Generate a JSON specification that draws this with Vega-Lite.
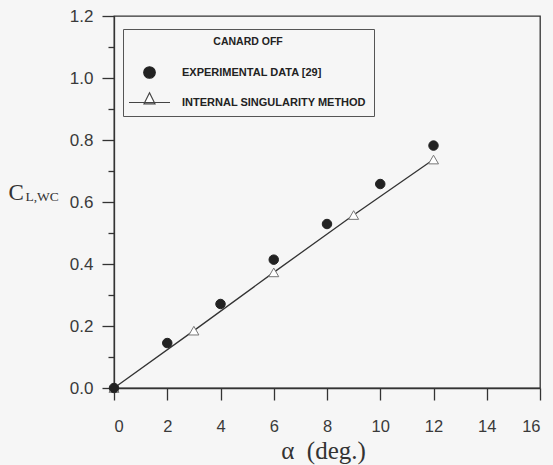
{
  "$schema": "https://vega.github.io/schema/vega-lite/v6.json",
  "autosize": {"type": "none"},
  "width": 426,
  "height": 372,
  "padding": {"left": 114, "top": 16, "right": 13, "bottom": 77},
  "background": "#f6f6f6",
  "config": {
    "view": {"stroke": "#333", "strokeWidth": 1.3},
    "axis": {"domainColor": "#333", "domainWidth": 1.3, "tickColor": "#333", "tickWidth": 1.3, "grid": false, "labelFont": "Liberation Sans", "labelColor": "#3a3a3a"}
  },
  "data": {
    "values": [
      {"series": "INTERNAL SINGULARITY METHOD", "alpha": 0, "cl": 0},
      {"series": "INTERNAL SINGULARITY METHOD", "alpha": 3, "cl": 0.185},
      {"series": "INTERNAL SINGULARITY METHOD", "alpha": 6, "cl": 0.373},
      {"series": "INTERNAL SINGULARITY METHOD", "alpha": 9, "cl": 0.558},
      {"series": "INTERNAL SINGULARITY METHOD", "alpha": 12, "cl": 0.737},
      {"series": "EXPERIMENTAL DATA [29]", "alpha": 0, "cl": 0},
      {"series": "EXPERIMENTAL DATA [29]", "alpha": 2, "cl": 0.145},
      {"series": "EXPERIMENTAL DATA [29]", "alpha": 4, "cl": 0.271},
      {"series": "EXPERIMENTAL DATA [29]", "alpha": 6, "cl": 0.414},
      {"series": "EXPERIMENTAL DATA [29]", "alpha": 8, "cl": 0.529},
      {"series": "EXPERIMENTAL DATA [29]", "alpha": 10, "cl": 0.658},
      {"series": "EXPERIMENTAL DATA [29]", "alpha": 12, "cl": 0.782}
    ]
  },
  "encoding": {
    "y": {
      "field": "cl", "type": "quantitative",
      "scale": {"domain": [0, 1.2], "nice": false, "zero": false},
      "axis": {
        "values": [0, 0.1, 0.2, 0.3, 0.4, 0.5, 0.6, 0.7, 0.8, 0.9, 1.0, 1.1, 1.2],
        "labelExpr": "round(datum.value*10)%2===0 ? format(datum.value, '.1f') : ''",
        "tickSize": {"condition": {"test": "round(datum.value*10)%2===0", "value": 12}, "value": 6},
        "labelFontSize": 17, "labelPadding": 9,
        "title": "C", "titleAngle": 0, "titleAlign": "left", "titleBaseline": "alphabetic",
        "titleX": -106, "titleY": 183, "titleFont": "Liberation Serif", "titleFontSize": 23, "titleFontWeight": "normal", "titleColor": "#333"
      }
    }
  },
  "layer": [
    {
      "transform": [{"filter": "datum.series === 'INTERNAL SINGULARITY METHOD'"}],
      "mark": {"type": "line", "color": "#333", "strokeWidth": 1.3},
      "encoding": {
        "x": {
          "field": "alpha", "type": "quantitative",
          "scale": {"domain": [0, 16], "nice": false, "zero": false},
          "axis": {
            "orient": "top", "domain": false, "ticks": false, "labels": false,
            "title": "L,WC", "titleAngle": 0, "titleAlign": "left", "titleBaseline": "alphabetic",
            "titleX": -89, "titleY": 184, "titleFont": "Liberation Serif", "titleFontSize": 13.5, "titleFontWeight": "normal", "titleColor": "#333"
          }
        }
      }
    },
    {
      "mark": {"type": "point", "filled": true, "strokeWidth": 1, "opacity": 1},
      "encoding": {
        "x": {
          "field": "alpha", "type": "quantitative",
          "scale": {"domain": [0, 16], "nice": false, "zero": false},
          "axis": {
            "orient": "bottom",
            "values": [0, 2, 4, 6, 8, 10, 12, 14, 16],
            "tickSize": 12, "labelFontSize": 16.5, "labelPadding": 18,
            "title": "α\u00a0\u00a0(deg.)", "titleFont": "Liberation Serif", "titleFontSize": 25, "titleFontWeight": "normal", "titleColor": "#333",
            "titleAlign": "center", "titleBaseline": "alphabetic", "titleX": 209, "titleY": 70
          }
        },
        "shape": {
          "condition": {"test": "datum.series === 'EXPERIMENTAL DATA [29]'", "value": "circle"},
          "value": "triangle-up"
        },
        "fill": {
          "condition": {"test": "datum.series === 'EXPERIMENTAL DATA [29]'", "value": "#222"},
          "value": "white"
        },
        "stroke": {
          "condition": {"test": "datum.series === 'EXPERIMENTAL DATA [29]'", "value": "#222"},
          "value": "#777"
        },
        "size": {
          "condition": {"test": "datum.series === 'EXPERIMENTAL DATA [29]'", "value": 90},
          "value": 100
        }
      }
    },
    {
      "mark": {"type": "point", "filled": true, "opacity": 0, "strokeWidth": 1.2},
      "encoding": {
        "x": {"field": "alpha", "type": "quantitative", "scale": {"domain": [0, 16], "nice": false, "zero": false}, "axis": null},
        "shape": {
          "field": "series", "type": "nominal",
          "scale": {"domain": ["EXPERIMENTAL DATA [29]", "INTERNAL SINGULARITY METHOD"], "range": ["circle", "M-3.55,0H3.55M0,-1.68L0.95,0.23H-0.95Z"]},
          "legend": {
            "orient": "none", "legendX": 9, "legendY": 13,
            "title": "CANARD OFF", "titleAnchor": "middle",
            "titleFont": "Liberation Sans", "titleFontSize": 10.5, "titleFontWeight": "bold", "titleColor": "#222", "titlePadding": 18.5,
            "labelFont": "Liberation Sans", "labelFontSize": 11, "labelFontWeight": "bold", "labelColor": "#222",
            "symbolSize": 133, "symbolOffset": 12, "labelOffset": 26, "rowPadding": 9,
            "symbolOpacity": 1, "symbolStrokeWidth": 1.2,
            "padding": 8, "strokeColor": "#555", "labelLimit": 400
          }
        },
        "fill": {
          "field": "series", "type": "nominal",
          "scale": {"domain": ["EXPERIMENTAL DATA [29]", "INTERNAL SINGULARITY METHOD"], "range": ["#222", "white"]}
        },
        "stroke": {
          "field": "series", "type": "nominal",
          "scale": {"domain": ["EXPERIMENTAL DATA [29]", "INTERNAL SINGULARITY METHOD"], "range": ["#222", "#444"]}
        }
      }
    }
  ],
  "resolve": {"scale": {"x": "independent"}, "axis": {"x": "independent"}}
}
